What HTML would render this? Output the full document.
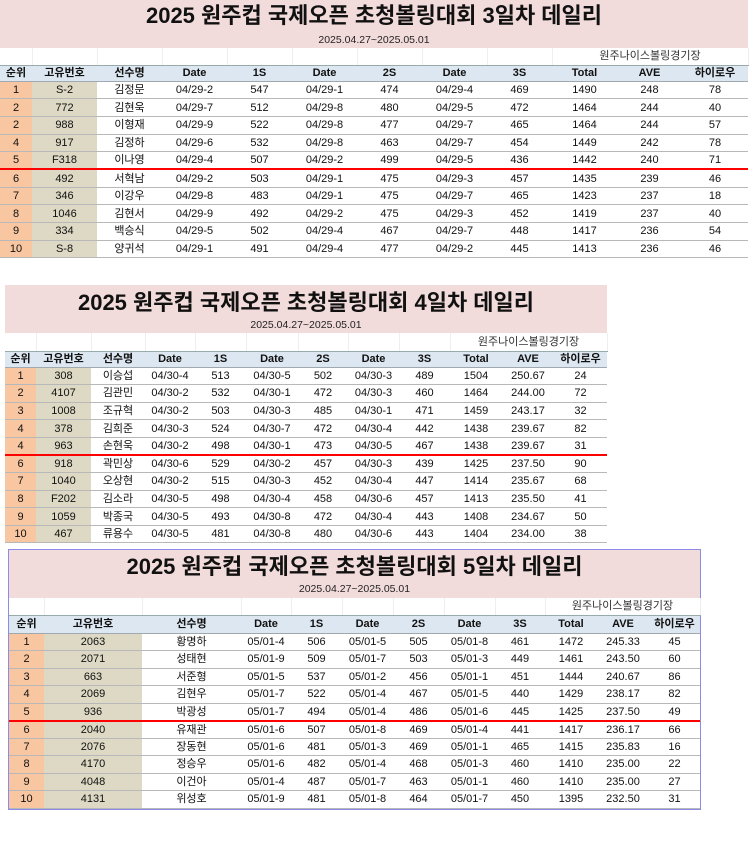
<!DOCTYPE html>
<html><head><meta charset="utf-8">
<style>
*{margin:0;padding:0;box-sizing:border-box}
body{width:750px;height:851px;background:#fff;position:relative;overflow:hidden;font-family:"Liberation Sans Narrow","Liberation Sans","Noto Sans CJK KR",sans-serif;color:#111}
.t{position:absolute}
.band{background:#f2dcdb;position:relative;height:48px}
.band .h{position:absolute;left:0;right:0;text-align:center;font-family:"Liberation Sans","Noto Sans CJK KR",sans-serif;font-weight:bold;font-size:22px;line-height:26px}
.band .s{position:absolute;left:0;right:0;text-align:center;font-size:10.5px;line-height:12px;color:#222}
table{border-collapse:collapse;table-layout:fixed;width:100%}
td{text-align:center;font-size:11px;white-space:nowrap;overflow:hidden;padding:0;border-bottom:1px solid #b8b8b8;line-height:12px;font-family:"Liberation Sans Narrow","Liberation Sans","Noto Sans CJK KR",sans-serif}
tr.w td{border-right:1px solid #eee;border-bottom:1px solid #9aa;color:#333}
tr.hd td{background:#dde7f1;font-weight:bold;border-bottom:1px solid #a0a8b0}
td.r{background:#f8c6a0}
td.i{background:#ddd9c4}
tr.red td{border-bottom:2px solid #ff0000}
td.n{font-family:"Liberation Sans","Noto Sans CJK KR",sans-serif;font-size:11px}
</style></head><body>

<!-- TABLE 1 -->
<div class="t" style="left:0;top:0;width:748px">
<div class="band"><div class="h" style="top:3px">2025 원주컵 국제오픈 초청볼링대회 3일차 데일리</div><div class="s" style="top:34px">2025.04.27~2025.05.01</div></div>
<table>
<colgroup><col style="width:32px"><col style="width:65px"><col style="width:65px"><col style="width:65px"><col style="width:65px"><col style="width:65px"><col style="width:65px"><col style="width:65px"><col style="width:65px"><col style="width:65px"><col style="width:65px"><col style="width:66px"></colgroup>
<tr class="w" style="height:17px"><td></td><td></td><td></td><td></td><td></td><td></td><td></td><td></td><td></td><td colspan="3" class="n">원주나이스볼링경기장</td></tr>
<tr class="hd" style="height:16px"><td class="n">순위</td><td class="n">고유번호</td><td class="n">선수명</td><td>Date</td><td>1S</td><td>Date</td><td>2S</td><td>Date</td><td>3S</td><td>Total</td><td>AVE</td><td class="n">하이로우</td></tr>
<tr style="height:17.7px"><td class="r">1</td><td class="i">S-2</td><td class="n">김정문</td><td>04/29-2</td><td>547</td><td>04/29-1</td><td>474</td><td>04/29-4</td><td>469</td><td>1490</td><td>248</td><td>78</td></tr>
<tr style="height:17.7px"><td class="r">2</td><td class="i">772</td><td class="n">김현욱</td><td>04/29-7</td><td>512</td><td>04/29-8</td><td>480</td><td>04/29-5</td><td>472</td><td>1464</td><td>244</td><td>40</td></tr>
<tr style="height:17.7px"><td class="r">2</td><td class="i">988</td><td class="n">이형재</td><td>04/29-9</td><td>522</td><td>04/29-8</td><td>477</td><td>04/29-7</td><td>465</td><td>1464</td><td>244</td><td>57</td></tr>
<tr style="height:17.7px"><td class="r">4</td><td class="i">917</td><td class="n">김정하</td><td>04/29-6</td><td>532</td><td>04/29-8</td><td>463</td><td>04/29-7</td><td>454</td><td>1449</td><td>242</td><td>78</td></tr>
<tr class="red" style="height:17.7px"><td class="r">5</td><td class="i">F318</td><td class="n">이나영</td><td>04/29-4</td><td>507</td><td>04/29-2</td><td>499</td><td>04/29-5</td><td>436</td><td>1442</td><td>240</td><td>71</td></tr>
<tr style="height:17.7px"><td class="r">6</td><td class="i">492</td><td class="n">서혁남</td><td>04/29-2</td><td>503</td><td>04/29-1</td><td>475</td><td>04/29-3</td><td>457</td><td>1435</td><td>239</td><td>46</td></tr>
<tr style="height:17.7px"><td class="r">7</td><td class="i">346</td><td class="n">이강우</td><td>04/29-8</td><td>483</td><td>04/29-1</td><td>475</td><td>04/29-7</td><td>465</td><td>1423</td><td>237</td><td>18</td></tr>
<tr style="height:17.7px"><td class="r">8</td><td class="i">1046</td><td class="n">김현서</td><td>04/29-9</td><td>492</td><td>04/29-2</td><td>475</td><td>04/29-3</td><td>452</td><td>1419</td><td>237</td><td>40</td></tr>
<tr style="height:17.7px"><td class="r">9</td><td class="i">334</td><td class="n">백승식</td><td>04/29-5</td><td>502</td><td>04/29-4</td><td>467</td><td>04/29-7</td><td>448</td><td>1417</td><td>236</td><td>54</td></tr>
<tr style="height:17.7px"><td class="r">10</td><td class="i">S-8</td><td class="n">양귀석</td><td>04/29-1</td><td>491</td><td>04/29-4</td><td>477</td><td>04/29-2</td><td>445</td><td>1413</td><td>236</td><td>46</td></tr>
</table></div>

<!-- TABLE 2 -->
<div class="t" style="left:5px;top:285px;width:602px">
<div class="band"><div class="h" style="top:5px">2025 원주컵 국제오픈 초청볼링대회 4일차 데일리</div><div class="s" style="top:34px">2025.04.27~2025.05.01</div></div>
<table>
<colgroup><col style="width:31px"><col style="width:55px"><col style="width:54px"><col style="width:50px"><col style="width:51px"><col style="width:52px"><col style="width:50px"><col style="width:51px"><col style="width:51px"><col style="width:52px"><col style="width:52px"><col style="width:53px"></colgroup>
<tr class="w" style="height:18px"><td></td><td></td><td></td><td></td><td></td><td></td><td></td><td></td><td></td><td colspan="3" class="n">원주나이스볼링경기장</td></tr>
<tr class="hd" style="height:16px"><td class="n">순위</td><td class="n">고유번호</td><td class="n">선수명</td><td>Date</td><td>1S</td><td>Date</td><td>2S</td><td>Date</td><td>3S</td><td>Total</td><td>AVE</td><td class="n">하이로우</td></tr>
<tr style="height:17.6px"><td class="r">1</td><td class="i">308</td><td class="n">이승섭</td><td>04/30-4</td><td>513</td><td>04/30-5</td><td>502</td><td>04/30-3</td><td>489</td><td>1504</td><td>250.67</td><td>24</td></tr>
<tr style="height:17.6px"><td class="r">2</td><td class="i">4107</td><td class="n">김관민</td><td>04/30-2</td><td>532</td><td>04/30-1</td><td>472</td><td>04/30-3</td><td>460</td><td>1464</td><td>244.00</td><td>72</td></tr>
<tr style="height:17.6px"><td class="r">3</td><td class="i">1008</td><td class="n">조규혁</td><td>04/30-2</td><td>503</td><td>04/30-3</td><td>485</td><td>04/30-1</td><td>471</td><td>1459</td><td>243.17</td><td>32</td></tr>
<tr style="height:17.6px"><td class="r">4</td><td class="i">378</td><td class="n">김희준</td><td>04/30-3</td><td>524</td><td>04/30-7</td><td>472</td><td>04/30-4</td><td>442</td><td>1438</td><td>239.67</td><td>82</td></tr>
<tr class="red" style="height:17.6px"><td class="r">4</td><td class="i">963</td><td class="n">손현욱</td><td>04/30-2</td><td>498</td><td>04/30-1</td><td>473</td><td>04/30-5</td><td>467</td><td>1438</td><td>239.67</td><td>31</td></tr>
<tr style="height:17.6px"><td class="r">6</td><td class="i">918</td><td class="n">곽민상</td><td>04/30-6</td><td>529</td><td>04/30-2</td><td>457</td><td>04/30-3</td><td>439</td><td>1425</td><td>237.50</td><td>90</td></tr>
<tr style="height:17.6px"><td class="r">7</td><td class="i">1040</td><td class="n">오상현</td><td>04/30-2</td><td>515</td><td>04/30-3</td><td>452</td><td>04/30-4</td><td>447</td><td>1414</td><td>235.67</td><td>68</td></tr>
<tr style="height:17.6px"><td class="r">8</td><td class="i">F202</td><td class="n">김소라</td><td>04/30-5</td><td>498</td><td>04/30-4</td><td>458</td><td>04/30-6</td><td>457</td><td>1413</td><td>235.50</td><td>41</td></tr>
<tr style="height:17.6px"><td class="r">9</td><td class="i">1059</td><td class="n">박종국</td><td>04/30-5</td><td>493</td><td>04/30-8</td><td>472</td><td>04/30-4</td><td>443</td><td>1408</td><td>234.67</td><td>50</td></tr>
<tr style="height:17.6px"><td class="r">10</td><td class="i">467</td><td class="n">류용수</td><td>04/30-5</td><td>481</td><td>04/30-8</td><td>480</td><td>04/30-6</td><td>443</td><td>1404</td><td>234.00</td><td>38</td></tr>
</table></div>

<!-- TABLE 3 -->
<div class="t" style="left:8px;top:549px;width:693px;border:1px solid #8c8ce8">
<div class="band"><div class="h" style="top:4px">2025 원주컵 국제오픈 초청볼링대회 5일차 데일리</div><div class="s" style="top:33px">2025.04.27~2025.05.01</div></div>
<table>
<colgroup><col style="width:35px"><col style="width:98px"><col style="width:99px"><col style="width:50px"><col style="width:51px"><col style="width:51px"><col style="width:51px"><col style="width:51px"><col style="width:50px"><col style="width:52px"><col style="width:52px"><col style="width:51px"></colgroup>
<tr class="w" style="height:17px"><td></td><td></td><td></td><td></td><td></td><td></td><td></td><td></td><td></td><td colspan="3" class="n">원주나이스볼링경기장</td></tr>
<tr class="hd" style="height:18px"><td class="n">순위</td><td class="n">고유번호</td><td class="n">선수명</td><td>Date</td><td>1S</td><td>Date</td><td>2S</td><td>Date</td><td>3S</td><td>Total</td><td>AVE</td><td class="n">하이로우</td></tr>
<tr style="height:17.5px"><td class="r">1</td><td class="i">2063</td><td class="n">황명하</td><td>05/01-4</td><td>506</td><td>05/01-5</td><td>505</td><td>05/01-8</td><td>461</td><td>1472</td><td>245.33</td><td>45</td></tr>
<tr style="height:17.5px"><td class="r">2</td><td class="i">2071</td><td class="n">성태현</td><td>05/01-9</td><td>509</td><td>05/01-7</td><td>503</td><td>05/01-3</td><td>449</td><td>1461</td><td>243.50</td><td>60</td></tr>
<tr style="height:17.5px"><td class="r">3</td><td class="i">663</td><td class="n">서준형</td><td>05/01-5</td><td>537</td><td>05/01-2</td><td>456</td><td>05/01-1</td><td>451</td><td>1444</td><td>240.67</td><td>86</td></tr>
<tr style="height:17.5px"><td class="r">4</td><td class="i">2069</td><td class="n">김현우</td><td>05/01-7</td><td>522</td><td>05/01-4</td><td>467</td><td>05/01-5</td><td>440</td><td>1429</td><td>238.17</td><td>82</td></tr>
<tr class="red" style="height:17.5px"><td class="r">5</td><td class="i">936</td><td class="n">박광성</td><td>05/01-7</td><td>494</td><td>05/01-4</td><td>486</td><td>05/01-6</td><td>445</td><td>1425</td><td>237.50</td><td>49</td></tr>
<tr style="height:17.5px"><td class="r">6</td><td class="i">2040</td><td class="n">유재관</td><td>05/01-6</td><td>507</td><td>05/01-8</td><td>469</td><td>05/01-4</td><td>441</td><td>1417</td><td>236.17</td><td>66</td></tr>
<tr style="height:17.5px"><td class="r">7</td><td class="i">2076</td><td class="n">장동현</td><td>05/01-6</td><td>481</td><td>05/01-3</td><td>469</td><td>05/01-1</td><td>465</td><td>1415</td><td>235.83</td><td>16</td></tr>
<tr style="height:17.5px"><td class="r">8</td><td class="i">4170</td><td class="n">정승우</td><td>05/01-6</td><td>482</td><td>05/01-4</td><td>468</td><td>05/01-3</td><td>460</td><td>1410</td><td>235.00</td><td>22</td></tr>
<tr style="height:17.5px"><td class="r">9</td><td class="i">4048</td><td class="n">이건아</td><td>05/01-4</td><td>487</td><td>05/01-7</td><td>463</td><td>05/01-1</td><td>460</td><td>1410</td><td>235.00</td><td>27</td></tr>
<tr style="height:17.5px"><td class="r">10</td><td class="i">4131</td><td class="n">위성호</td><td>05/01-9</td><td>481</td><td>05/01-8</td><td>464</td><td>05/01-7</td><td>450</td><td>1395</td><td>232.50</td><td>31</td></tr>
</table></div>
</body></html>
